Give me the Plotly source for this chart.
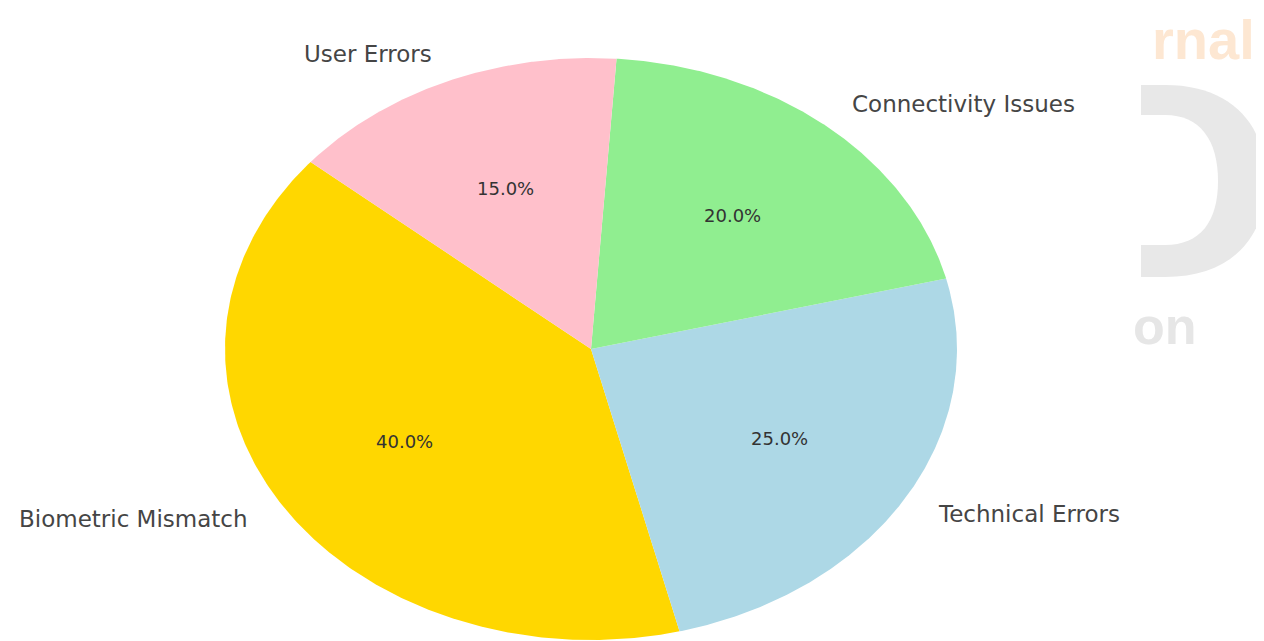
import numpy as np
import plotly.graph_objects as go

# ---- data ----
categories = ["Biometric Mismatch", "Technical Errors", "Connectivity Issues", "User Errors"]
values = [40, 25, 20, 15]
colors = ["#FFD700", "#ADD8E6", "#90EE90", "#FFC0CB"]
start_angle = 140  # degrees, counter-clockwise

# page body adds an 8px offset, so the figure is 8px smaller and shifted
OFF = 8
W, H = 1264 - OFF, 641 - OFF
CX, CY, RX, RY = 591 - OFF, 349 - OFF, 366, 291  # pie centre / radii in figure pixels

fig = go.Figure()

total = float(sum(values))
theta0 = start_angle
label_font = dict(family="DejaVu Sans", size=23, color="#454545")
pct_font = dict(family="DejaVu Sans", size=18, color="#333333")

for cat, val, col in zip(categories, values, colors):
    span = val / total * 360.0
    th = np.radians(np.linspace(theta0, theta0 + span, 240))
    xs = np.concatenate([[0], np.cos(th), [0]])
    ys = np.concatenate([[0], np.sin(th), [0]])
    fig.add_trace(go.Scatter(x=xs, y=ys, fill="toself", fillcolor=col, mode="lines",
                             line=dict(width=0, color=col), hoverinfo="text",
                             text=f"{cat}: {val}", showlegend=False, xaxis="x", yaxis="y"))
    mid = np.radians(theta0 + span / 2)
    lx, ly = 1.1 * np.cos(mid), 1.1 * np.sin(mid)
    fig.add_annotation(x=lx, y=ly, xref="x", yref="y", text=cat, showarrow=False,
                       xanchor="left" if lx > 0 else "right", yanchor="middle", font=label_font)
    fig.add_annotation(x=0.6 * np.cos(mid), y=0.6 * np.sin(mid), xref="x", yref="y",
                       text=f"{val / total * 100:.1f}%", showarrow=False,
                       xanchor="center", yanchor="middle", font=pct_font)
    theta0 += span

# ---- faint watermark on the right (window-pixel coordinates on a helper axis) ----
WX0 = 1141 - OFF
fig.add_annotation(x=1257 - OFF, y=39 - OFF, xref="x2", yref="y2", text="<b>rnal</b>", showarrow=False,
                   xanchor="right", yanchor="middle",
                   font=dict(family="Liberation Sans", size=56, color="#FDE7D2"))
fig.add_annotation(x=1199 - OFF, y=326 - OFF, xref="x2", yref="y2", text="<b>on</b>", showarrow=False,
                   xanchor="right", yanchor="middle",
                   font=dict(family="Liberation Sans", size=52, color="#E6E6E6"))


def shift_path(p):
    out = []
    for tok in p.split():
        if "," in tok:
            cmd = tok[0] if tok[0].isalpha() else ""
            a, b = tok.lstrip("MLCZ").split(",")
            out.append(f"{cmd}{float(a) - OFF},{float(b) - OFF}")
        else:
            out.append(tok)
    return " ".join(out)


fig.add_shape(type="path", xref="x2", yref="y2", layer="below", line=dict(width=0),
              fillcolor="#E8E8E8",
              path=shift_path("M1141,85 L1165,85 C1232,85 1266,125 1266,181 C1266,237 1232,277 1165,277 L1141,277 Z"))
fig.add_shape(type="path", xref="x2", yref="y2", layer="below", line=dict(width=0),
              fillcolor="#FFFFFF",
              path=shift_path("M1141,115 L1165,115 C1200,115 1218,140 1218,181 C1218,222 1200,245 1165,245 L1141,245 Z"))

fig.update_layout(
    width=W, height=H,
    margin=dict(l=0, r=0, t=0, b=0),
    paper_bgcolor="white", plot_bgcolor="rgba(0,0,0,0)",
    xaxis=dict(range=[-CX / RX, (W - CX) / RX], domain=[0, 1], visible=False, fixedrange=True),
    yaxis=dict(range=[-(H - CY) / RY, CY / RY], domain=[0, 1], visible=False, fixedrange=True),
    xaxis2=dict(range=[WX0, W], domain=[WX0 / W, 1], visible=False, anchor="y2", fixedrange=True),
    yaxis2=dict(range=[H, 0], domain=[0, 1], visible=False, anchor="x2", fixedrange=True),
    showlegend=False,
)

fig.write_html("out.html")
